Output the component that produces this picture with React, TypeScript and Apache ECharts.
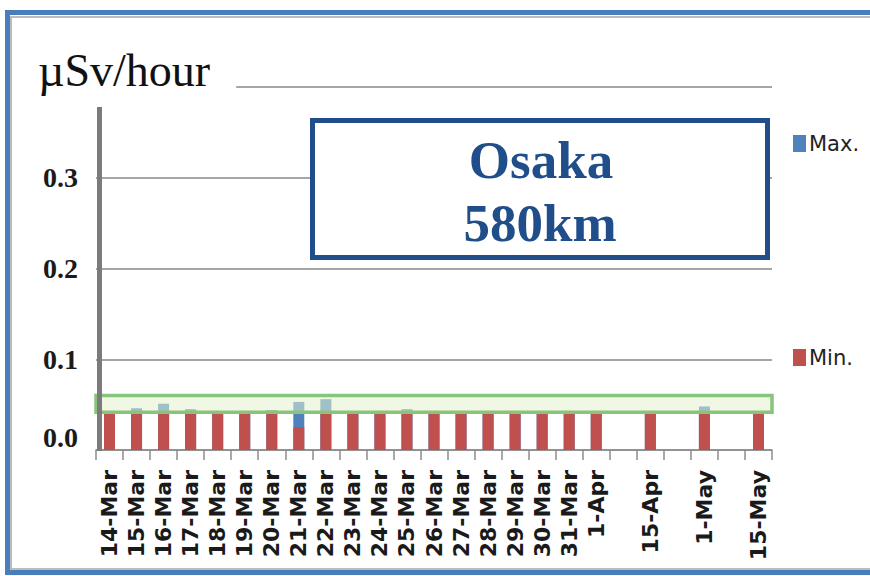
import React, { useEffect, useRef } from 'react';
import * as echarts from 'echarts';

// Category axis (blank strings are empty slots on the date axis)
const categories: string[] = [
  '14-Mar', '15-Mar', '16-Mar', '17-Mar', '18-Mar', '19-Mar', '20-Mar', '21-Mar', '22-Mar',
  '23-Mar', '24-Mar', '25-Mar', '26-Mar', '27-Mar', '28-Mar', '29-Mar', '30-Mar', '31-Mar',
  '1-Apr', ' ', '15-Apr', '  ', '1-May', '   ', '15-May',
];

// Daily maximum dose rate (µSv/hour)
const maxValues: (number | null)[] = [
  0.040, 0.046, 0.051, 0.045, 0.043, 0.043, 0.044, 0.053, 0.056,
  0.042, 0.042, 0.045, 0.042, 0.042, 0.043, 0.043, 0.042, 0.042,
  0.042, null, 0.042, null, 0.048, null, 0.042,
];

// Daily minimum dose rate (µSv/hour)
const minValues: (number | null)[] = [
  0.040, 0.040, 0.040, 0.040, 0.040, 0.040, 0.040, 0.025, 0.040,
  0.040, 0.040, 0.040, 0.040, 0.040, 0.040, 0.040, 0.040, 0.040,
  0.040, null, 0.040, null, 0.040, null, 0.040,
];

// Highlighted band (green box)
const bandRange: [number, number] = [0.0415, 0.06];

const yMax = 0.4;
const yInterval = 0.1;

const GRID = { left: 96, right: 98, top: 87, bottom: 126 };
const W = 870;
const H = 576;

const labelStyle = {
  fontFamily: '"Liberation Serif", serif',
  fontSize: 28,
  fontWeight: 'bold' as const,
  color: '#1a1a1a',
};

export default function App() {
  const ref = useRef<HTMLDivElement>(null);

  useEffect(() => {
    if (!ref.current) return;
    const chart = echarts.init(ref.current, null, { renderer: 'svg' });
    const axisBottom = H - GRID.bottom;
    const option: any = {
      animation: false,
      backgroundColor: '#ffffff',
      title: {
        text: 'µSv/hour',
        left: 30,
        top: 45,
        padding: [0, 26, 0, 8],
        backgroundColor: '#ffffff',
        textStyle: {
          fontFamily: '"Liberation Serif", serif',
          fontSize: 46,
          fontWeight: 'normal',
          color: '#111111',
          lineHeight: 50,
        },
      },
      legend: {
        orient: 'vertical',
        left: 793,
        top: 133,
        padding: 0,
        itemWidth: 13,
        itemHeight: 17,
        itemGap: 193,
        icon: 'rect',
        data: ['Max.', 'Min.'],
        textStyle: {
          fontFamily: '"DejaVu Sans", sans-serif',
          fontSize: 21,
          color: '#222222',
          padding: [0, 0, 0, -2],
        },
      },
      grid: { left: GRID.left, right: GRID.right, top: GRID.top, bottom: GRID.bottom, containLabel: false },
      xAxis: {
        type: 'category',
        data: categories,
        boundaryGap: true,
        axisLine: { show: true, lineStyle: { color: '#8c8c8c', width: 1.5 } },
        axisTick: { show: true, length: 10, interval: 0, lineStyle: { color: '#8c8c8c', width: 1.5 } },
        axisLabel: {
          interval: 0,
          rotate: 90,
          margin: 20,
          fontFamily: '"DejaVu Sans", sans-serif',
          fontWeight: 'bold',
          fontSize: 22,
          color: '#1a1a1a',
        },
        splitLine: { show: false },
      },
      yAxis: {
        type: 'value',
        min: 0,
        max: yMax,
        interval: yInterval,
        axisLine: { show: false },
        axisTick: { show: false },
        splitLine: { show: true, lineStyle: { color: '#878787', width: 1.5 } },
        axisLabel: {
          margin: 18,
          formatter: (v: number) => {
            if (v >= yMax - 1e-9) return '';
            if (Math.abs(v) < 1e-9) return '{z|0.0}';
            return '{n|' + v.toFixed(1) + '}';
          },
          rich: {
            n: { ...labelStyle },
            z: { ...labelStyle, padding: [0, 0, 26, 0] },
          },
        },
      },
      series: [
        {
          name: 'Max.',
          type: 'bar',
          data: maxValues,
          barWidth: 11,
          barGap: '-100%',
          itemStyle: { color: '#4f81bd' },
          z: 2,
        },
        {
          name: 'Min.',
          type: 'bar',
          data: minValues,
          barWidth: 11,
          barGap: '-100%',
          itemStyle: { color: '#c0504d' },
          z: 2,
          markArea: {
            silent: true,
            z: 3,
            itemStyle: {
              color: 'rgba(228, 242, 208, 0.55)',
              borderColor: '#88c47a',
              borderWidth: 3.5,
            },
            label: { show: false },
            data: [[{ yAxis: bandRange[0] }, { yAxis: bandRange[1] }]],
          },
        },
      ],
      graphic: [
        {
          type: 'rect',
          silent: true,
          z: 0,
          shape: { x: 7.5, y: 12.5, width: 900, height: 560 },
          style: { fill: 'none', stroke: '#4a7ebb', lineWidth: 5 },
        },
        {
          type: 'rect',
          silent: true,
          z: 0,
          shape: { x: 11, y: 17, width: 900, height: 552 },
          style: { fill: 'none', stroke: '#a6a6a6', lineWidth: 1.5 },
        },
        {
          type: 'line',
          silent: true,
          z: 50,
          shape: { x1: GRID.left + 3.5, y1: 107, x2: GRID.left + 3.5, y2: axisBottom + 1 },
          style: { stroke: '#7b7b7b', lineWidth: 5 },
        },
        {
          type: 'rect',
          silent: true,
          z: 60,
          shape: { x: 312.5, y: 120.5, width: 455, height: 137 },
          style: { fill: '#ffffff', stroke: '#1f4e8a', lineWidth: 5 },
        },
        {
          type: 'text',
          silent: true,
          z: 61,
          x: 541,
          y: 160,
          style: {
            text: 'Osaka',
            fontFamily: '"Liberation Serif", serif',
            fontSize: 53,
            fontWeight: 'bold',
            fill: '#1f4e8a',
            align: 'center',
            verticalAlign: 'middle',
          },
        },
        {
          type: 'text',
          silent: true,
          z: 61,
          x: 540,
          y: 223,
          style: {
            text: '580km',
            fontFamily: '"Liberation Serif", serif',
            fontSize: 53,
            fontWeight: 'bold',
            fill: '#1f4e8a',
            align: 'center',
            verticalAlign: 'middle',
          },
        },
      ],
    };
    chart.setOption(option);
    return () => chart.dispose();
  }, []);

  return (
    <div
      ref={ref}
      style={{ position: 'fixed', left: 0, top: 0, width: W, height: H }}
    />
  );
}
